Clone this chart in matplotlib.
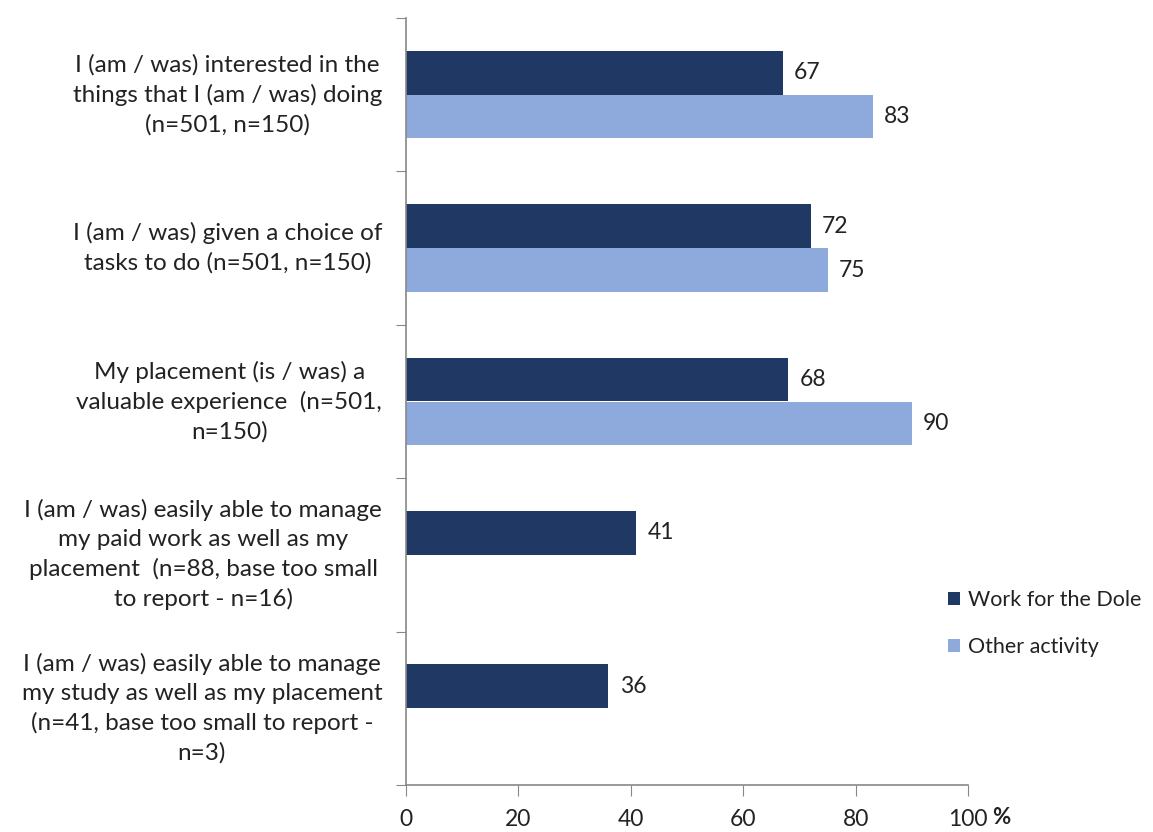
import matplotlib.pyplot as plt
import numpy as np

categories = [
    "I (am / was) interested in the\nthings that I (am / was) doing\n(n=501, n=150)",
    "I (am / was) given a choice of\ntasks to do (n=501, n=150)",
    "My placement (is / was) a\nvaluable experience  (n=501,\nn=150)",
    "I (am / was) easily able to manage\nmy paid work as well as my\nplacement  (n=88, base too small\nto report - n=16)",
    "I (am / was) easily able to manage\nmy study as well as my placement\n(n=41, base too small to report -\nn=3)",
]
work_for_dole = [67, 72, 68, 41, 36]
other_activity = [83, 75, 90, None, None]
series_names = ["Work for the Dole", "Other activity"]
xticks = [0, 20, 40, 60, 80, 100]

dark = "#203864"
light = "#8EA9DB"
txt = "#222222"
plt.rcParams['font.family'] = ['Lato', 'DejaVu Sans']

fig = plt.figure(figsize=(11.53, 8.32), dpi=100)
ax = fig.add_axes([0.352, 0.0565, 0.4877, 0.9219])

y = np.arange(len(categories))
h = 0.285
off = 0.143

for i in range(len(categories)):
    ax.barh(y[i] - off, work_for_dole[i], height=h, color=dark,
            label=series_names[0] if i == 0 else None)
    ax.text(work_for_dole[i] + 2, y[i] - off, str(work_for_dole[i]),
            va='center', ha='left', fontsize=16.5, color=txt)
    if other_activity[i] is not None:
        ax.barh(y[i] + off, other_activity[i], height=h, color=light,
                label=series_names[1] if i == 0 else None)
        ax.text(other_activity[i] + 2, y[i] + off, str(other_activity[i]),
                va='center', ha='left', fontsize=16.5, color=txt)

ax.set_ylim(len(categories) - 0.5, -0.5)
ax.set_xlim(0, 100)

ax.set_yticks(np.arange(-0.5, len(categories), 1))
ax.set_yticklabels([])
ax.tick_params(axis='y', length=7, color='#888888', direction='out')
for i, c in enumerate(categories):
    ax.text(-0.042, i, c, transform=ax.get_yaxis_transform(), ha='right', va='center',
            multialignment='center', fontsize=17.5, color=txt, linespacing=1.45)

ax.set_xticks(xticks)
ax.set_xticklabels([str(t) for t in xticks], fontsize=16.5, color=txt)
ax.tick_params(axis='x', length=8, color='#888888', direction='out', pad=9)
ax.text(104.3, -0.043, "%", transform=ax.get_xaxis_transform(), ha='left', va='center',
        fontsize=16, color=txt, fontweight='bold')

for s in ['top', 'right']:
    ax.spines[s].set_visible(False)
for s in ['left', 'bottom']:
    ax.spines[s].set_color('#888888')
    ax.spines[s].set_linewidth(1.2)

ax.legend(loc='center left', bbox_to_anchor=(0.93, 0.21), frameon=False,
          fontsize=15.5, handlelength=0.55, handleheight=0.55, handletextpad=0.35,
          labelspacing=1.25, labelcolor=txt)

fig.savefig("out.png", dpi=100)
